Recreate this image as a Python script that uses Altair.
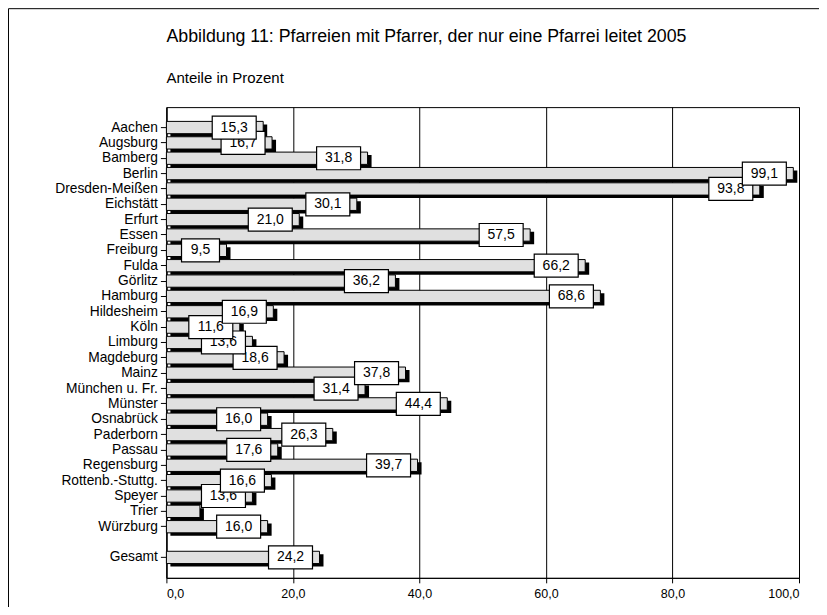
import altair as alt
import pandas as pd

title_text = "Abbildung 11: Pfarreien mit Pfarrer, der nur eine Pfarrei leitet 2005"
subtitle_text = "Anteile in Prozent"

categories = ["Aachen", "Augsburg", "Bamberg", "Berlin", "Dresden-Meißen", "Eichstätt",
              "Erfurt", "Essen", "Freiburg", "Fulda", "Görlitz", "Hamburg", "Hildesheim",
              "Köln", "Limburg", "Magdeburg", "Mainz", "München u. Fr.", "Münster",
              "Osnabrück", "Paderborn", "Passau", "Regensburg", "Rottenb.-Stuttg.",
              "Speyer", "Trier", "Würzburg", "Gesamt"]
values = [15.3, 16.7, 31.8, 99.1, 93.8, 30.1, 21.0, 57.5, 9.5, 66.2, 36.2, 68.6, 16.9,
          11.6, 13.6, 18.6, 37.8, 31.4, 44.4, 16.0, 26.3, 17.6, 39.7, 16.6, 13.6, 5.3,
          16.0, 24.2]
labels = ["15,3", "16,7", "31,8", "99,1", "93,8", "30,1", "21,0", "57,5", "9,5", "66,2",
          "36,2", "68,6", "16,9", "11,6", "13,6", "18,6", "37,8", "31,4", "44,4", "16,0",
          "26,3", "17,6", "39,7", "16,6", "13,6", "", "16,0", "24,2"]
x_ticks = [0, 20, 40, 60, 80, 100]

spacer = " "
domain = categories[:-1] + [spacer] + categories[-1:]

df = pd.DataFrame({"cat": categories, "value": values, "label": labels,
                   "idx": list(range(len(categories)))})

W, H = 633, 471
FONT = "Liberation Sans"

yscale = alt.Scale(domain=domain, paddingInner=0.2, paddingOuter=0.93)
xscale = alt.Scale(domain=[0, 100], nice=False)

x_axis = alt.Axis(values=x_ticks, title=None,
                  labelExpr="replace(format(datum.value, '.1f'), '.', ',')",
                  grid=True, gridColor="black", gridWidth=1, gridOpacity=1,
                  domainColor="black", tickColor="black", tickSize=5,
                  labelFontSize=12.5, labelColor="black", labelFont=FONT, labelPadding=5)
y_axis = alt.Axis(title=None, values=categories, labelFontSize=13.8, labelColor="black",
                  labelFont=FONT, tickSize=6, tickColor="black", domainColor="black",
                  labelPadding=3, labelLimit=300)

base = alt.Chart(df)

shadow = base.mark_bar(color="black", xOffset=4, x2Offset=4, yOffset=3, y2Offset=3).encode(
    x=alt.X("value:Q", scale=xscale, axis=x_axis),
    x2=alt.X2(datum=0),
    y=alt.Y("cat:N", scale=yscale, sort=domain, axis=y_axis),
)

bars = base.mark_bar(color="#e0e0e0", stroke="black", strokeWidth=1).encode(
    x=alt.X("value:Q", scale=xscale),
    x2=alt.X2(datum=0),
    y=alt.Y("cat:N", scale=yscale, sort=domain),
)

layers = [shadow, bars]
for i in reversed(range(len(categories))):
    if labels[i] == "":
        continue
    sub = base.transform_filter(alt.datum.idx == i)
    w_left = -45 if len(labels[i]) == 3 else -51
    box = sub.mark_bar(size=23, fill="white", stroke="black", strokeWidth=1.2,
                       xOffset=w_left, x2Offset=-7).encode(
        x=alt.X("value:Q", scale=xscale),
        x2=alt.X2("value"),
        y=alt.Y("cat:N", scale=yscale, sort=domain),
    )
    txt = sub.mark_text(xOffset=(w_left - 7) / 2, align="center", baseline="middle",
                        fontSize=14, font=FONT, color="black").encode(
        x=alt.X("value:Q", scale=xscale),
        y=alt.Y("cat:N", scale=yscale, sort=domain),
        text="label:N",
    )
    layers += [box, txt]

tdf = pd.DataFrame({"t": [title_text]})
sdf = pd.DataFrame({"t": [subtitle_text]})
title_mark = alt.Chart(tdf).mark_text(align="left", baseline="middle", fontSize=17.8,
                                      font=FONT, color="black").encode(
    x=alt.value(0), y=alt.value(-70), text="t:N")
subtitle_mark = alt.Chart(sdf).mark_text(align="left", baseline="middle", fontSize=15,
                                         font=FONT, color="black").encode(
    x=alt.value(0), y=alt.value(-29), text="t:N")

frame_left = alt.Chart(tdf).mark_rule(color="black", strokeWidth=1).encode(
    x=alt.value(-158), y=alt.value(-98.5), y2=alt.value(H + 60))
frame_top = alt.Chart(tdf).mark_rule(color="black", strokeWidth=1).encode(
    x=alt.value(-158), x2=alt.value(W + 60), y=alt.value(-98.5))

layers += [title_mark, subtitle_mark, frame_left, frame_top]

chart = alt.layer(*layers).properties(
    width=W, height=H,
    autosize=alt.AutoSizeParams(type="none"),
    padding={"left": 158.5, "top": 99, "right": 20, "bottom": 29},
    background="white",
).configure_view(stroke="black", strokeWidth=1)

chart.save("out.html", embed_options={"renderer": "svg", "actions": False})
